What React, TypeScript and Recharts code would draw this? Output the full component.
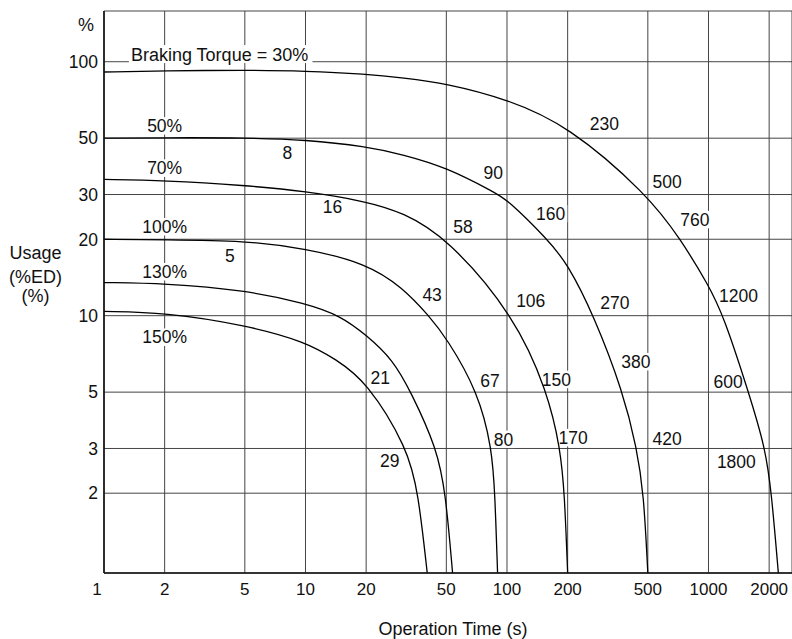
import React from 'react';
import { ComposedChart, Line, Scatter, XAxis, YAxis, CartesianGrid, Label } from 'recharts';

const FONT = '"Liberation Sans", Arial, Helvetica, sans-serif';

// axis ticks
const timeTicks = [1, 2, 5, 10, 20, 50, 100, 200, 500, 1000, 2000];
const usageTicks = [2, 3, 5, 10, 20, 30, 50, 100];

// usage (%ED) vs operation time (s), one curve per braking torque
const torque30 = [
  { x: 1, y: 91.1 }, { x: 2, y: 92.1 }, { x: 5, y: 92.7 }, { x: 10, y: 91.9 },
  { x: 20, y: 89.4 }, { x: 30.4, y: 86.5 }, { x: 50, y: 82.2 }, { x: 100, y: 71.3 },
  { x: 200, y: 56.3 }, { x: 500, y: 29.9 }, { x: 727, y: 20 },
  { x: 1000, y: 13.2 }, { x: 1187, y: 10 }, { x: 1581, y: 5 },
  { x: 1918, y: 3 }, { x: 2055, y: 2 }, { x: 2222, y: 0.97 },
];
const torque50 = [
  { x: 1, y: 50 }, { x: 2, y: 50.2 }, { x: 5, y: 50.2 }, { x: 10, y: 49.3 },
  { x: 20, y: 46.4 }, { x: 30.4, y: 43.1 }, { x: 50, y: 38.4 }, { x: 88, y: 30.4 },
  { x: 100, y: 28.7 }, { x: 159, y: 20 }, { x: 200, y: 16 }, { x: 270, y: 10 },
  { x: 377, y: 5 }, { x: 441, y: 3 }, { x: 477, y: 2 }, { x: 500, y: 0.97 },
];
const torque70 = [
  { x: 1, y: 34.4 }, { x: 2, y: 34.1 }, { x: 5, y: 32.6 }, { x: 10, y: 30.9 },
  { x: 20, y: 28.2 }, { x: 30.4, y: 25.5 }, { x: 50, y: 20.4 },
  { x: 109, y: 10 }, { x: 159, y: 5 }, { x: 184, y: 3 }, { x: 193, y: 2 }, { x: 200, y: 0.97 },
];
const torque100 = [
  { x: 1, y: 20 }, { x: 2, y: 19.9 }, { x: 5, y: 19.75 }, { x: 10, y: 18.4 },
  { x: 20, y: 16.1 }, { x: 30.4, y: 12.9 }, { x: 40.9, y: 10 }, { x: 50, y: 8.2 },
  { x: 72, y: 5 }, { x: 84.2, y: 3 }, { x: 87.1, y: 2 }, { x: 89.8, y: 0.97 },
];
const torque130 = [
  { x: 1, y: 13.5 }, { x: 2, y: 13.4 }, { x: 5, y: 12.6 }, { x: 10, y: 11.2 },
  { x: 14.9, y: 10 }, { x: 20, y: 8.4 }, { x: 27.2, y: 6.7 }, { x: 33.4, y: 5 },
  { x: 44.9, y: 3 }, { x: 49.6, y: 2 }, { x: 53.7, y: 0.97 },
];
const torque150 = [
  { x: 1, y: 10.4 }, { x: 2, y: 10.3 }, { x: 5, y: 9.2 }, { x: 10, y: 7.9 },
  { x: 14.1, y: 6.74 }, { x: 20, y: 5.55 }, { x: 32.2, y: 3 }, { x: 36.3, y: 2 },
  { x: 40.2, y: 0.97 },
];

// curve names
const torqueTitle = [{ x: 1.36, y: 107.2, text: 'Braking Torque = 30%' }];
const torqueLabels = [
  { x: 2, y: 55.9, text: '50%' },
  { x: 2, y: 38.1, text: '70%' },
  { x: 2, y: 22.4, text: '100%' },
  { x: 2, y: 14.9, text: '130%' },
  { x: 2, y: 8.23, text: '150%' },
];
// time markers along the curves
const timeLabels = [
  { x: 8.14, y: 43.8, text: '8' },
  { x: 13.6, y: 26.8, text: '16' },
  { x: 4.21, y: 17.3, text: '5' },
  { x: 304, y: 56.8, text: '230' },
  { x: 85.4, y: 36.4, text: '90' },
  { x: 624, y: 33.6, text: '500' },
  { x: 164.8, y: 25.2, text: '160' },
  { x: 856, y: 23.9, text: '760' },
  { x: 60.5, y: 22.4, text: '58' },
  { x: 42.5, y: 12.1, text: '43' },
  { x: 131.2, y: 11.5, text: '106' },
  { x: 343, y: 11.25, text: '270' },
  { x: 1408, y: 11.96, text: '1200' },
  { x: 23.5, y: 5.72, text: '21' },
  { x: 26.2, y: 2.68, text: '29' },
  { x: 82.3, y: 5.57, text: '67' },
  { x: 176, y: 5.61, text: '150' },
  { x: 436, y: 6.59, text: '380' },
  { x: 1251, y: 5.49, text: '600' },
  { x: 96, y: 3.26, text: '80' },
  { x: 213, y: 3.31, text: '170' },
  { x: 624, y: 3.28, text: '420' },
  { x: 1375, y: 2.65, text: '1800' },
];

const curves = [torque30, torque50, torque70, torque100, torque130, torque150];

// rough Arial advance widths (em) for the label background boxes
const CHAR_W: Record<string, number> = {
  '%': 0.889, ' ': 0.278, '=': 0.584, B: 0.667, r: 0.333, k: 0.5, i: 0.222, T: 0.611,
};
const textWidth = (s: string, size: number) =>
  s.split('').reduce((w, c) => w + (CHAR_W[c] ?? 0.556), 0) * size;

function textMark(anchor: 'start' | 'middle', size: number) {
  return (props: any) => {
    const { cx, cy, payload } = props;
    if (cx == null || cy == null) return <g />;
    const w = textWidth(payload.text, size);
    const x0 = anchor === 'start' ? cx : cx - w / 2;
    return (
      <g>
        <rect x={x0 - 2} y={cy - size * 0.5} width={w + 4} height={size} fill="#fff" />
        <text x={cx} y={cy} dy="0.36em" textAnchor={anchor} fontSize={size} fontFamily={FONT} fill="#111">
          {payload.text}
        </text>
      </g>
    );
  };
}

const XTick = (props: any) => {
  const { x, y, payload } = props;
  const shift = payload.value === 1 ? -7 : 0;
  return (
    <text x={x + shift} y={y} dy="0.71em" textAnchor="middle" fontSize={17} fontFamily={FONT} fill="#111">
      {payload.value}
    </text>
  );
};

const YTick = (props: any) => {
  const { x, y, payload } = props;
  return (
    <text x={x} y={y} dy="0.36em" textAnchor="end" fontSize={17.5} fontFamily={FONT} fill="#111">
      {payload.value}
    </text>
  );
};

export default function App() {
  return (
    <div style={{ position: 'absolute', left: 0, top: 0, width: 792, height: 639, background: '#fff' }}>
      <ComposedChart width={792} height={639} margin={{ top: 11, right: 0, bottom: 0, left: 0 }}>
        <CartesianGrid stroke="#444" strokeWidth={1} />
        <XAxis
          dataKey="x"
          type="number"
          scale="log"
          domain={[1, 2597]}
          allowDataOverflow
          ticks={timeTicks}
          tick={<XTick />}
          tickLine={false}
          tickSize={0}
          tickMargin={10}
          height={66}
          axisLine={{ stroke: '#111', strokeWidth: 1.6 }}
        >
          <Label
            content={(p: any) => {
              const vb = p.viewBox || { x: 104, y: 573, width: 688 };
              return (
                <text x={vb.x + vb.width / 2 + 5} y={vb.y + 62} textAnchor="middle" fontSize={18} fontFamily={FONT} fill="#111">
                  Operation Time (s)
                </text>
              );
            }}
          />
        </XAxis>
        <YAxis
          dataKey="y"
          type="number"
          scale="log"
          domain={[0.97, 158.4]}
          allowDataOverflow
          ticks={usageTicks}
          tick={<YTick />}
          tickLine={false}
          tickSize={0}
          tickMargin={6}
          width={104}
          axisLine={{ stroke: '#111', strokeWidth: 1.6 }}
        >
          <Label
            content={(p: any) => {
              const vb = p.viewBox || { x: 0, y: 11, width: 104 };
              const cx = 35.5;
              return (
                <g fontFamily={FONT} fontSize={18} fill="#111" textAnchor="middle">
                  <text x={vb.x + vb.width - 18} y={vb.y + 19.5}>%</text>
                  <text x={cx} y={259}>Usage</text>
                  <text x={cx} y={283}>(%ED)</text>
                  <text x={cx} y={302}>(%)</text>
                </g>
              );
            }}
          />
        </YAxis>
        <Scatter data={torqueTitle} shape={textMark('start', 18)} isAnimationActive={false} zIndex={300} />
        <Scatter data={torqueLabels} shape={textMark('middle', 17.5)} isAnimationActive={false} zIndex={300} />
        <Scatter data={timeLabels} shape={textMark('middle', 17.5)} isAnimationActive={false} zIndex={300} />
        {curves.map((c, i) => (
          <Line
            key={i}
            data={c}
            dataKey="y"
            type="basis"
            stroke="#000"
            strokeWidth={1.3}
            dot={false}
            activeDot={false}
            isAnimationActive={false}
          />
        ))}
      </ComposedChart>
    </div>
  );
}
